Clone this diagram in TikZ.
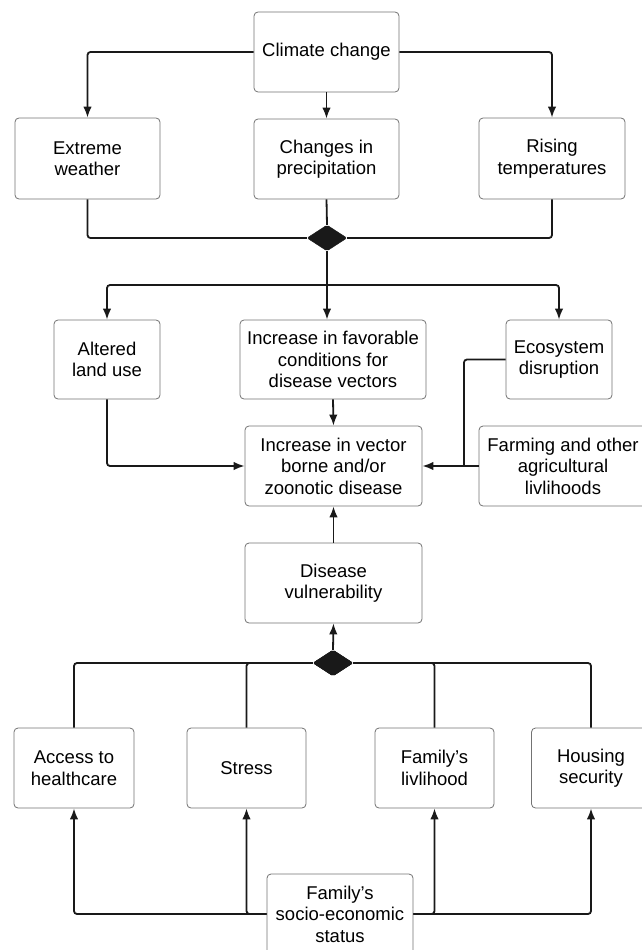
\documentclass[tikz,border=0pt]{standalone}
\usepackage{fontspec}
\setmainfont{Liberation Sans}
\usetikzlibrary{arrows.meta,shapes.geometric}
\begin{document}
\begin{tikzpicture}[x=1pt,y=1pt,
  box/.style={draw=black!55, line width=0.8pt, rounded corners=4pt, fill=white,
    align=center, inner sep=2pt, font=\fontsize{18.5}{21.5}\selectfont},
  conn/.style={line width=1.8pt, black!90, rounded corners=3pt},
  arr/.style={conn, -{Latex[length=11pt,width=8.5pt]}},
  junction/.style={diamond, fill=black!90, draw=black!90, inner sep=0pt,
    minimum width=40pt, minimum height=26pt, rounded corners=2pt}]
\useasboundingbox (0,0) rectangle (642,-950);
\clip (0,0) rectangle (642,-950);
% boxes
\node[box, minimum width=145pt, minimum height=80pt] (cc) at (326.5,-52) {Climate change};
\node[box, minimum width=145pt, minimum height=81pt] (ew) at (87.5,-158.5) {Extreme\\weather};
\node[box, minimum width=145pt, minimum height=80pt] (cp) at (326.5,-159) {Changes in\\precipitation};
\node[box, minimum width=146pt, minimum height=81pt] (rt) at (552,-158.5) {Rising\\temperatures};
\node[junction] (d1) at (327,-238) {};
\coordinate (j1) at (327,-285);
\node[box, minimum width=106pt, minimum height=79pt] (al) at (107,-359.5) {Altered\\land use};
\node[box, minimum width=186pt, minimum height=79pt] (fv) at (333,-359.5) {Increase in favorable\\conditions for\\disease vectors};
\node[box, minimum width=106pt, minimum height=79pt] (ed) at (559,-359.5) {Ecosystem\\disruption};
\node[box, minimum width=177pt, minimum height=80pt] (iv) at (333.5,-466) {Increase in vector\\borne and/or\\zoonotic disease};
\node[box, minimum width=168pt, minimum height=80pt] (fa) at (563,-466) {Farming and other\\agricultural\\livlihoods};
\coordinate (ej) at (464,-466);
\node[box, minimum width=177pt, minimum height=80pt] (dv) at (333.5,-583) {Disease\\vulnerability};
\node[junction] (d2) at (333,-663) {};
\node[box, minimum width=120pt, minimum height=80pt] (ah) at (74,-768) {Access to\\healthcare};
\node[box, minimum width=119pt, minimum height=80pt] (st) at (246.5,-768) {Stress};
\node[box, minimum width=119pt, minimum height=80pt] (fl) at (434.5,-768) {Family’s\\livlihood};
\node[box, minimum width=119pt, minimum height=80pt] (hs) at (591,-768) {Housing\\security};
\node[box, minimum width=146pt, minimum height=80pt] (fs) at (340,-914) {Family’s\\socio-economic\\status};
% connectors: top
\draw[arr] (cc.west) -| (ew.north);
\draw[arr] (cc.east) -| (rt.north);
\draw[arr] (cc.south) -- (cp.north);
\draw[conn] (ew.south) |- (d1.west);
\draw[conn] (rt.south) |- (d1.east);
\draw[conn] (cp.south) -- (d1.north);
\draw[conn] (d1.south) -- (j1);
\draw[arr] (j1) -| (al.north);
\draw[arr] (j1) -| (ed.north);
\draw[arr] (j1) -- (j1 |- fv.north);
% middle
\draw[arr] (fv.south) -- (iv.north);
\draw[arr] (al.south) |- (iv.west);
\draw[arr] (fa.west) -- (iv.east);
\draw[conn] (ed.west) -| (ej);
\draw[arr] (dv.north) -- (iv.south);
\draw[arr] (d2.north) -- (dv.south);
% bottom
\draw[conn] (ah.north) |- (d2.west);
\draw[conn] (st.north) |- (d2.west);
\draw[conn] (fl.north) |- (d2.east);
\draw[conn] (hs.north) |- (d2.east);
\node[junction] at (d2) {};
\draw[arr] (fs.west) -| (ah.south);
\draw[arr] (fs.west) -| (st.south);
\draw[arr] (fs.east) -| (fl.south);
\draw[arr] (fs.east) -| (hs.south);
\end{tikzpicture}
\end{document}
